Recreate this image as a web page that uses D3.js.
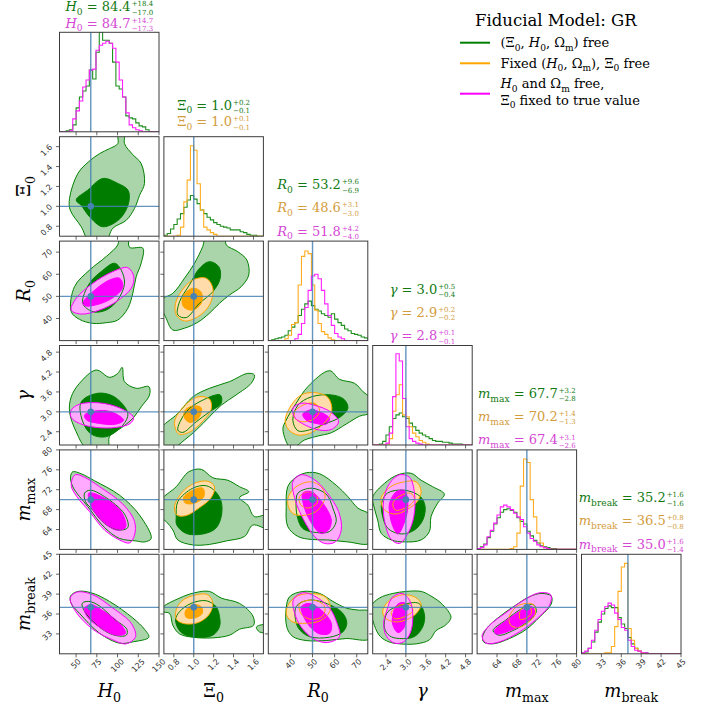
<!DOCTYPE html>
<html><head><meta charset="utf-8">
<script src="https://cdn.jsdelivr.net/npm/d3@7"></script>
<style>body{margin:0;background:#fff}svg{display:block}</style>
</head><body>
<svg id="c" width="721" height="707"></svg>
<script>
// ---------------- DATA ----------------
const paramKeys = ["H0","Xi0","R0","gamma","mmax","mbreak"];
const paramRanges = [[30,150],[0.70,1.70],[30,75],[2.0,5.0],[60,80],[30,45]];
const truthValues = [67.7,1.0,50,3.0,70,37];
const tickValues = [[50,75,100,125,150],[0.8,1.0,1.2,1.4,1.6],[40,50,60,70],[2.4,3.0,3.6,4.2,4.8],[64,68,72,76,80],[33,36,39,42,45]];
const tickLabels = [["50","75","100","125","150"],["0.8","1.0","1.2","1.4","1.6"],["40","50","60","70"],["2.4","3.0","3.6","4.2","4.8"],["64","68","72","76","80"],["33","36","39","42","45"]];
const paramSymbols = [[["H","i"],["0","s"]],[["Ξ",""],["0","s"]],[["R","i"],["0","s"]],[["γ","i"]],[["m","i"],["max","s"]],[["m","i"],["break","s"]]];
const seriesNames = ["green","orange","magenta"];
const legendLabels = [
  [[["(",""],["Ξ",""],["0","s"],[", ",""],["H","i"],["0","s"],[", Ω",""],["m","s"],[") free",""]]],
  [[["Fixed (",""],["H","i"],["0","s"],[", Ω",""],["m","s"],["), ",""],["Ξ",""],["0","s"],[" free",""]]],
  [[["H","i"],["0","s"],[" and Ω",""],["m","s"],[" free,",""]],[["Ξ",""],["0","s"],[" fixed to true value",""]]]
];
const legendTitle = "Fiducial Model: GR";

// titles: [series, median, plus, minus]
const titleValues = [
  [["green","84.4","+18.4","−17.0"],["magenta","84.7","+14.7","−17.3"]],
  [["green","1.0","+0.2","−0.1"],["orange","1.0","+0.1","−0.1"]],
  [["green","53.2","+9.6","−6.9"],["orange","48.6","+3.1","−3.0"],["magenta","51.8","+4.2","−4.0"]],
  [["green","3.0","+0.5","−0.4"],["orange","2.9","+0.2","−0.2"],["magenta","2.8","+0.1","−0.1"]],
  [["green","67.7","+3.2","−2.8"],["orange","70.2","+1.4","−1.3"],["magenta","67.4","+3.1","−2.6"]],
  [["green","35.2","+1.6","−1.6"],["orange","36.5","+0.8","−0.8"],["magenta","35.0","+1.6","−1.4"]]
];

// 1D histograms (30 bins over each axis range), heights in % of the tallest bar
const hist_H0 = [
  ["green",  [0,0,1,2,7,24,35,41,46,62,53,80,100,92,92,89,70,46,43,35,16,14,13,9,6,5,2,0,0,0]],
  ["magenta",[0,0,0,1,13,21,31,45,52,62,63,82,87,89,91,89,84,70,52,35,19,7,4,2,1,0,0,0,0,0]]
];
const hist_Xi0 = [
  ["green", [1,3,8,13,19,25,32,40,45,41,36,29,25,21,18,15,13,11,10,9,7,7,7,5,4,2,1,1,0,0]],
  ["orange",[0,0,0,0,1,10,38,62,100,95,58,29,10,7,4,2,0,0,0,0,0,0,0,0,0,0,0,0,0,0]]
];
const hist_R0 = [
  ["green",  [0,1,2,3,4,6,11,15,20,28,35,41,44,39,35,33,30,28,26,30,24,20,17,13,11,8,7,6,4,3]],
  ["orange", [0,0,0,0,0,2,6,18,20,62,94,100,97,62,34,19,10,7,3,1,0,0,0,0,0,0,0,0,0,0]],
  ["magenta",[0,0,0,0,0,0,0,0,2,7,19,37,56,72,74,69,56,41,28,17,8,4,2,0,0,0,0,0,0,0]]
];
const hist_gamma = [
  ["green",  [0,0,1,4,11,20,29,33,35,31,29,24,20,16,13,11,9,7,5,4,4,3,3,2,1,1,1,0,0,0]],
  ["orange", [0,0,0,0,0,7,37,55,66,33,31,20,13,9,5,3,1,0,0,0,0,0,0,0,0,0,0,0,0,0]],
  ["magenta",[0,0,0,0,2,13,53,100,92,51,20,7,4,2,1,0,0,0,0,0,0,0,0,0,0,0,0,0,0,0]]
];
const hist_mmax = [
  ["green",  [1,3,6,13,20,28,35,41,44,45,43,41,35,31,28,20,15,10,7,4,3,2,1,1,0,0,0,0,0,0]],
  ["orange", [0,0,0,0,0,0,0,0,0,0,1,3,18,70,100,96,55,36,18,7,2,1,0,0,0,0,0,0,0,0]],
  ["magenta",[1,2,5,14,21,29,38,47,49,47,44,40,36,33,25,18,12,9,5,3,2,1,0,0,0,0,0,0,0,0]]
];
const hist_mbreak = [
  ["green",  [1,2,6,13,24,35,44,50,53,51,51,40,33,28,18,11,6,3,1,1,0,0,0,0,0,0,0,0,0,0]],
  ["orange", [0,0,0,0,0,0,0,1,1,8,30,69,96,100,28,15,6,3,1,0,0,0,0,0,0,0,0,0,0,0]],
  ["magenta",[1,3,6,15,26,38,47,52,56,54,45,38,29,26,15,8,4,3,1,1,0,0,0,0,0,0,0,0,0,0]]
];
const histTops = [100,110,111,109,110,110];

// 2D credible contours: [series, level (2 = 95%, 1 = 68%), [[x,y],...]]
const contour_H0_Xi0 = [
  ["green",2,[[66.2,0.645],[56.2,0.795],[42.9,0.963],[42.1,1.08],[52.1,1.33],[65.4,1.45],[78.3,1.53],[90.3,1.58],[100.3,1.63],[100.3,1.75],[108.4,1.75],[108.4,1.63],[118.4,1.52],[128.5,1.43],[132.5,1.23],[126.5,1.11],[120.5,0.98],[110.5,0.86],[94.3,0.78],[85.5,0.645]]],
  ["green",1,[[50.1,1.064],[64.2,1.164],[82.3,1.28],[100.4,1.23],[112.5,1.164],[113.7,1.047],[103.4,0.88],[82.3,0.795],[66.2,0.896],[56.2,1.01]]]
];
const contour_H0_R0 = [
  ["green",2,[[44.1,43.1],[48.1,54.4],[66.2,61.9],[86.3,68.0],[100.3,73.3],[102.4,77],[112.4,77],[114.4,72.2],[130.5,71.8],[128.5,65.0],[122.5,58.9],[118.4,51.4],[112.4,44.6],[100.3,39.3],[86.3,38.1],[70.2,37.8],[54.1,39.6]]],
  ["green",1,[[58.1,46.9],[66.2,55.9],[80.3,61.2],[96.4,65.0],[104.4,61.9],[108.4,55.9],[100.3,48.4],[86.3,43.8],[70.2,43.1]]],
  ["magenta",2,[[44.1,43.8],[50.1,49.1],[70.2,55.9],[94.3,61.2],[112.4,63.0],[119.6,58.9],[116.5,53.7],[98.4,47.6],[78.3,43.8],[56.2,42.0]]],
  ["magenta",1,[[58.1,46.9],[70.2,52.1],[90.3,57.4],[102.4,58.2],[106.4,54.4],[96.4,49.9],[78.3,46.6],[61.4,45.7]]]
];
const contour_H0_gamma = [
  ["green",2,[[62.9,1.9],[50.1,2.40],[42.1,3.0],[44.1,3.45],[54.1,3.86],[74.3,4.26],[90.3,4.04],[100.3,4.16],[105.6,4.34],[108.4,3.91],[122.5,3.71],[137.7,3.76],[138.6,3.51],[128.5,3.15],[118.4,2.80],[106.4,2.55],[90.3,2.25],[88.3,1.9]]],
  ["green",1,[[56.2,3.30],[76.2,3.56],[96.3,3.45],[112.4,2.95],[106.4,2.60],[86.3,2.25],[68.2,2.33],[57.4,2.75]]],
  ["magenta",2,[[44.1,3.05],[54.1,3.23],[78.3,3.27],[102.4,3.12],[119.3,2.83],[115.3,2.65],[98.4,2.53],[74.3,2.53],[54.1,2.65],[44.1,2.83]]],
  ["magenta",1,[[60.2,2.90],[74.3,3.03],[92.4,3.0],[107.2,2.75],[98.4,2.63],[78.3,2.65],[62.9,2.75]]]
];
const contour_H0_mmax = [
  ["green",2,[[46.0,75.6],[56.2,75.2],[72.2,73.8],[102.4,70.9],[126.5,66.9],[140.6,62.2],[132.5,61.5],[122.5,61.7],[102.4,62.2],[84.3,64.4],[64.1,68.6],[46.0,72.6],[43.3,74.6]]],
  ["green",1,[[60.2,71.3],[67.0,71.9],[84.3,70.6],[108.4,67.1],[112.4,64.4],[100.3,63.9],[84.3,65.2],[70.2,67.9],[61.4,69.6]]],
  ["magenta",2,[[44.1,72.9],[48.9,75.0],[60.2,74.5],[78.3,72.6],[106.4,69.1],[120.5,65.6],[120.5,62.9],[114.4,61.3],[102.4,61.9],[84.3,63.9],[66.2,67.6],[50.9,70.6]]],
  ["magenta",1,[[65.4,71.3],[84.3,70.3],[104.4,67.6],[109.6,64.4],[98.4,63.9],[82.3,65.6],[69.4,68.3]]]
];
const contour_H0_mbreak = [
  ["green",2,[[43.3,38.7],[52.1,39.4],[68.2,39.2],[90.3,37.9],[118.4,35.4],[132.5,33.7],[137.7,32.5],[118.4,31.8],[102.4,31.6],[78.3,33.1],[54.1,36.1],[44.1,37.6]]],
  ["green",1,[[57.4,37.6],[65.4,37.9],[78.3,37.2],[96.3,35.2],[111.2,33.7],[110.5,32.8],[96.3,32.8],[78.3,34.0],[60.2,36.4]]],
  ["magenta",2,[[42.9,38.4],[50.9,39.3],[70.2,38.9],[94.3,36.9],[116.5,34.6],[121.7,32.6],[110.5,31.5],[94.3,32.1],[70.2,33.7],[49.3,36.4]]],
  ["magenta",1,[[60.2,36.9],[68.2,37.4],[82.3,36.5],[102.4,34.6],[109.6,33.1],[98.4,32.8],[78.3,34.0],[62.9,35.7]]]
];
const contour_Xi0_R0 = [
  ["green",2,[[0.79,34.8],[0.723,40.1],[0.66,48.0],[0.79,51.4],[0.907,58.2],[1.008,65.0],[1.09,72.5],[1.125,77],[1.31,77],[1.326,73.3],[1.443,70.2],[1.533,66.5],[1.553,59.7],[1.477,54.4],[1.359,50.6],[1.259,46.9],[1.158,42.4],[1.041,38.3],[0.907,35.6]]],
  ["green",1,[[0.957,55.2],[1.058,62.7],[1.158,65.7],[1.252,63.4],[1.266,58.2],[1.192,52.1],[1.058,46.9],[0.924,40.4],[0.84,41.6],[0.857,47.6]]],
  ["orange",2,[[0.817,46.9],[0.884,52.9],[0.99,57.4],[1.125,58.2],[1.192,53.7],[1.158,46.1],[1.041,40.8],[0.907,38.9],[0.824,41.6]]],
  ["orange",1,[[0.89,49.9],[0.99,53.7],[1.075,51.9],[1.075,46.9],[0.99,43.8],[0.897,45.3]]]
];
const contour_Xi0_gamma = [
  ["green",2,[[0.66,1.9],[0.66,2.45],[0.84,2.95],[0.99,3.45],[1.158,3.71],[1.359,3.91],[1.543,4.16],[1.61,4.11],[1.577,3.86],[1.426,3.51],[1.276,3.20],[1.158,2.85],[1.025,2.45],[0.907,2.15],[0.79,1.9]]],
  ["green",1,[[0.84,2.45],[0.924,3.0],[1.075,3.33],[1.266,3.51],[1.276,3.26],[1.158,3.0],[1.025,2.70],[0.89,2.38]]],
  ["orange",2,[[0.807,2.70],[0.907,3.18],[1.041,3.45],[1.158,3.39],[1.175,3.08],[1.085,2.70],[0.964,2.40],[0.85,2.33]]],
  ["orange",1,[[0.907,3.02],[0.99,3.18],[1.075,3.12],[1.051,2.82],[0.964,2.68],[0.91,2.80]]]
];
const contour_Xi0_mmax = [
  ["green",2,[[0.66,66.6],[0.66,69.6],[0.824,72.6],[0.95,75.6],[1.075,76.1],[1.191,74.4],[1.342,73.9],[1.46,72.6],[1.553,71.6],[1.46,70.4],[1.543,68.9],[1.61,66.6],[1.75,66.9],[1.75,64.2],[1.594,64.9],[1.51,62.6],[1.326,61.7],[1.158,61.0],[0.99,60.9],[0.84,61.9],[0.79,63.9],[0.723,65.6]]],
  ["green",1,[[0.824,66.6],[0.84,69.6],[0.99,72.3],[1.125,72.8],[1.219,71.6],[1.276,69.6],[1.276,66.6],[1.219,64.2],[1.091,63.1],[0.924,63.2],[0.83,64.9]]],
  ["orange",2,[[0.807,68.6],[0.884,71.5],[1.008,73.3],[1.141,73.7],[1.209,72.6],[1.175,70.4],[1.058,68.4],[0.924,66.8],[0.83,66.9]]],
  ["orange",1,[[0.897,70.4],[0.99,71.9],[1.091,72.3],[1.101,70.6],[1.008,69.3],[0.917,69.3]]]
];
const contour_Xi0_mbreak = [
  ["green",2,[[0.68,36.35],[0.68,36.9],[0.857,38.4],[1.008,39.2],[1.158,39.4],[1.276,38.4],[1.46,37.6],[1.594,35.7],[1.601,34.3],[1.46,33.7],[1.359,32.8],[1.191,32.4],[0.99,32.5],[0.857,33.0],[0.79,34.3],[0.757,36.1]]],
  ["green",2,[[1.63,34.0],[1.66,34.3],[1.75,34.3],[1.75,33.3],[1.66,33.3]]],
  ["green",1,[[0.817,35.1],[0.857,36.35],[0.974,37.6],[1.125,38.0],[1.225,37.1],[1.259,35.6],[1.259,34.1],[1.191,32.8],[1.025,32.5],[0.874,33.2]]],
  ["orange",2,[[0.817,36.2],[0.874,37.9],[1.025,38.9],[1.141,38.9],[1.191,37.7],[1.158,36.0],[1.058,34.8],[0.924,34.5],[0.83,35.1]]],
  ["orange",1,[[0.917,36.5],[0.997,37.4],[1.075,37.1],[1.085,36.1],[1.008,35.4],[0.924,35.5]]]
];
const contour_R0_gamma = [
  ["green",2,[[36.6,2.47],[38.1,2.75],[42.6,3.26],[47.9,3.76],[57.7,4.24],[62.2,3.98],[69.0,3.86],[72.8,3.61],[76,3.41],[76,2.97],[71.3,2.87],[65.2,2.63],[58.5,2.37],[52.4,2.27],[46.4,2.15],[40.4,1.9]]],
  ["green",1,[[41.1,2.75],[43.4,3.20],[49.4,3.45],[58.5,3.51],[64.2,3.38],[66.0,3.11],[62.2,2.83],[55.4,2.63],[49.4,2.47],[43.4,2.43]]],
  ["orange",2,[[37.6,2.75],[40.4,3.20],[44.9,3.51],[50.9,3.58],[56.9,3.44],[58.7,3.03],[55.1,2.65],[49.4,2.37],[43.4,2.30],[39.1,2.47]]],
  ["orange",1,[[41.9,3.00],[45.6,3.20],[50.9,3.26],[53.2,3.05],[50.9,2.80],[45.6,2.70],[42.2,2.80]]],
  ["magenta",2,[[41.1,3.11],[44.9,3.26],[50.9,3.20],[58.1,3.00],[61.8,2.70],[58.5,2.47],[53.2,2.45],[46.7,2.60],[41.9,2.83]]],
  ["magenta",1,[[45.6,2.93],[48.6,3.05],[53.2,3.00],[57.7,2.80],[56.2,2.63],[51.7,2.65],[47.1,2.75]]]
];
const contour_R0_mmax = [
  ["green",2,[[38.8,72.6],[41.9,74.3],[47.1,75.4],[53.2,75.2],[60.7,72.9],[66.0,70.6],[70.5,68.3],[76,66.9],[76,61.3],[66.0,61.5],[56.9,61.9],[49.4,62.0],[43.4,62.6],[38.8,64.6],[38.1,68.6]]],
  ["green",1,[[42.6,69.6],[43.4,71.3],[49.4,72.3],[56.2,71.1],[59.2,68.3],[60.7,65.6],[57.7,63.6],[51.7,63.4],[45.6,64.2],[43.1,66.6]]],
  ["orange",2,[[39.1,70.6],[42.6,72.6],[49.1,73.6],[53.9,72.6],[55.7,70.6],[52.4,67.9],[47.1,66.9],[41.5,67.1],[39.1,68.6]]],
  ["orange",1,[[44.1,70.6],[47.9,71.6],[51.7,70.9],[52.1,69.3],[47.9,68.3],[44.6,69.0]]],
  ["magenta",2,[[41.1,73.6],[44.6,75.0],[50.6,74.1],[56.2,71.6],[61.8,67.6],[63.0,63.9],[60.3,61.5],[55.4,61.2],[50.9,62.6],[46.4,65.6],[42.2,69.9]]],
  ["magenta",1,[[45.6,71.3],[49.4,71.6],[54.7,69.3],[58.5,65.9],[57.2,63.9],[53.9,63.2],[50.1,64.9],[46.4,68.3]]]
];
const contour_R0_mbreak = [
  ["green",2,[[38.1,36.9],[39.6,38.6],[45.6,39.4],[53.2,39.1],[59.2,37.9],[65.2,36.9],[70.5,36.6],[76,36.35],[76,32.3],[65.2,32.3],[56.2,32.0],[47.1,32.0],[41.1,32.6],[38.4,34.0]]],
  ["green",1,[[42.6,37.1],[48.6,38.1],[57.7,37.4],[63.7,36.1],[65.5,34.6],[63.7,33.3],[57.7,32.5],[48.6,32.6],[43.4,34.0]]],
  ["orange",2,[[38.4,36.9],[41.9,38.5],[49.4,39.1],[56.2,38.5],[58.0,36.6],[53.5,35.0],[47.1,34.6],[41.1,34.8],[38.4,35.7]]],
  ["orange",1,[[44.1,37.5],[50.1,38.1],[55.4,37.2],[54.7,35.7],[49.4,35.2],[44.9,36.0]]],
  ["magenta",2,[[41.4,38.2],[45.6,39.2],[50.9,38.7],[57.7,36.9],[61.0,34.7],[62.2,32.6],[56.9,31.7],[51.4,32.1],[45.9,33.6],[42.3,35.7]]],
  ["magenta",1,[[44.9,37.1],[48.6,37.6],[53.9,36.6],[58.5,34.6],[57.7,33.1],[53.2,33.0],[48.6,34.2],[45.6,35.9]]]
];
const contour_gamma_mmax = [
  ["green",2,[[2.0,70.5],[2.36,73.3],[2.76,75.0],[3.16,75.3],[3.46,73.9],[3.81,72.6],[4.16,71.1],[3.96,69.3],[3.76,66.6],[3.71,63.6],[3.46,61.9],[2.96,61.5],[2.56,61.9],[2.26,63.2],[2.15,65.9],[2.05,68.3]]],
  ["green",1,[[2.27,69.3],[2.44,71.3],[2.96,71.9],[3.44,70.6],[3.58,68.6],[3.51,65.9],[3.26,63.9],[2.86,63.1],[2.46,64.2],[2.30,66.6]]],
  ["orange",2,[[2.26,70.5],[2.54,72.6],[2.96,73.6],[3.31,73.6],[3.46,71.8],[3.36,69.8],[3.06,68.1],[2.68,67.1],[2.36,67.9],[2.26,69.3]]],
  ["orange",1,[[2.61,69.3],[2.81,70.7],[3.14,71.3],[3.26,70.1],[3.06,68.6],[2.68,67.9]]],
  ["magenta",2,[[2.33,69.9],[2.51,73.3],[2.81,75.0],[3.11,74.5],[3.26,71.3],[3.24,66.6],[3.06,63.2],[2.81,61.2],[2.56,62.0],[2.36,65.6]]],
  ["magenta",1,[[2.51,69.3],[2.71,71.6],[2.96,71.8],[3.06,69.1],[2.98,65.9],[2.76,63.1],[2.61,64.6],[2.51,67.3]]]
];
const contour_gamma_mbreak = [
  ["green",2,[[1.95,37.1],[2.20,38.4],[2.61,39.1],[3.01,39.4],[3.46,39.4],[3.76,38.7],[4.11,37.4],[4.36,35.5],[4.19,34.3],[3.91,33.5],[3.71,32.1],[3.31,31.5],[2.81,31.5],[2.49,31.8],[2.23,32.6],[2.05,34.3]]],
  ["green",1,[[2.36,35.0],[2.46,36.35],[2.91,37.4],[3.39,37.6],[3.56,35.9],[3.51,34.1],[3.26,32.6],[2.81,32.3],[2.51,32.7],[2.36,33.8]]],
  ["orange",2,[[2.30,36.5],[2.51,38.1],[2.91,38.9],[3.29,38.5],[3.46,37.5],[3.36,36.35],[3.11,35.35],[2.71,34.8],[2.39,35.35]]],
  ["orange",1,[[2.56,36.2],[2.81,37.3],[3.11,37.4],[3.21,36.5],[3.01,35.7],[2.66,35.3]]],
  ["magenta",2,[[2.43,36.6],[2.59,38.5],[2.89,39.1],[3.13,37.9],[3.21,35.6],[3.13,33.1],[2.93,31.8],[2.66,31.6],[2.41,32.7],[2.33,34.6]]],
  ["magenta",1,[[2.61,36.0],[2.76,37.5],[2.96,37.7],[3.03,36.1],[2.93,33.8],[2.76,33.2],[2.61,34.3]]]
];
const contour_mmax_mbreak = [
  ["green",2,[[61.1,32.5],[61.9,33.8],[64.5,35.6],[67.9,37.4],[70.5,38.6],[72.9,39.1],[74.9,38.7],[74.9,37.5],[72.5,35.5],[69.9,33.7],[66.5,32.3],[63.2,31.5],[61.3,31.8]]],
  ["green",1,[[63.2,33.5],[65.8,35.1],[69.2,36.9],[71.3,37.4],[71.9,36.35],[69.9,34.7],[67.2,33.5],[64.4,32.8]]],
  ["orange",2,[[66.5,35.7],[67.9,37.1],[69.9,37.6],[71.3,37.4],[71.7,36.0],[70.4,34.8],[68.5,34.0],[66.9,34.2],[66.4,35.1]]],
  ["orange",1,[[68.5,36.0],[69.2,37.1],[70.5,37.2],[70.9,36.1],[69.9,35.4],[68.7,35.2]]],
  ["magenta",2,[[61.0,32.7],[62.5,34.3],[65.8,36.2],[69.2,38.0],[72.5,39.2],[74.8,38.9],[74.6,37.4],[71.9,35.2],[68.5,33.3],[64.5,31.8],[61.8,31.6]]],
  ["magenta",1,[[63.5,33.5],[65.8,35.0],[69.1,36.6],[71.1,37.1],[71.5,36.0],[69.2,34.5],[66.7,33.5],[63.8,33.0]]]
];

// ---------------- STYLE / LAYOUT ----------------
const style = {
  green:  {line:"#008000", light:"#aad5aa", dark:"#007d00", hist:"#1f8f1f", title:"#137a13"},
  orange: {line:"#ffa500", light:"#ffdcaa", dark:"#ffa500", hist:"#ffad1f", title:"#d39c3c"},
  magenta:{line:"#ff00ff", light:"#ffaaff", dark:"#ff00ff", hist:"#ff1fff", title:"#d447d4"}
};
const TRUTH = "#4682b4";
const PX0 = 59.5, PY0 = 32.3, PS = 99.5, STEP = 104.4, N = 6;
const SERIF = "DejaVu Serif", SANS = "DejaVu Sans";

const svg = d3.select("#c");
const xS = paramRanges.map((r,i) => d3.scaleLinear().domain(r).range([PX0+i*STEP, PX0+i*STEP+PS]));
const yS = paramRanges.map((r,i) => d3.scaleLinear().domain(r).range([PY0+i*STEP+PS, PY0+i*STEP]));
const px = j => PX0 + j*STEP, py = i => PY0 + i*STEP;

const defs = svg.append("defs");
for (let i=0;i<N;i++) for (let j=0;j<=i;j++)
  defs.append("clipPath").attr("id",`cl-${i}-${j}`).append("rect")
    .attr("x",px(j)).attr("y",py(i)).attr("width",PS).attr("height",PS);

function rich(textSel, segs, fs) {
  let shift = 0;
  segs.forEach(([t,k]) => {
    const ts = textSel.append("tspan").text(t);
    let target = 0;
    if (k === "s") { target = fs*0.28; ts.attr("font-size", fs*0.7); }
    if (k === "i") ts.attr("font-style","italic");
    ts.attr("dy", target - shift);
    shift = target;
  });
}

// ---------- diagonal histograms ----------
const histAll = [hist_H0, hist_Xi0, hist_R0, hist_gamma, hist_mmax, hist_mbreak];
histAll.forEach((hs,i) => {
  const [lo,hi] = paramRanges[i];
  const nb = hs[0][1].length;
  const edges = d3.range(nb+1).map(k => lo + k*(hi-lo)/nb);
  const y = d3.scaleLinear().domain([0, histTops[i]]).range([py(i)+PS, py(i)]);
  const g = svg.append("g").attr("clip-path",`url(#cl-${i}-${i})`);
  const line = d3.line().x(d => xS[i](d[0])).y(d => y(d[1]));
  hs.forEach(([s, vals]) => {
    const pts = [[edges[0],0]];
    vals.forEach((v,k) => { pts.push([edges[k],v]); pts.push([edges[k+1],v]); });
    pts.push([edges[nb],0]);
    g.append("path").attr("d",line(pts)).attr("fill","none")
      .attr("stroke",style[s].hist).attr("stroke-width",1.1);
  });
  g.append("line").attr("x1",xS[i](truthValues[i])).attr("x2",xS[i](truthValues[i]))
    .attr("y1",py(i)).attr("y2",py(i)+PS).attr("stroke",TRUTH).attr("stroke-width",1.4).attr("opacity",0.85);
});

// ---------- 2D panels ----------
const panels = [
  [1,0,contour_H0_Xi0],
  [2,0,contour_H0_R0],[2,1,contour_Xi0_R0],
  [3,0,contour_H0_gamma],[3,1,contour_Xi0_gamma],[3,2,contour_R0_gamma],
  [4,0,contour_H0_mmax],[4,1,contour_Xi0_mmax],[4,2,contour_R0_mmax],[4,3,contour_gamma_mmax],
  [5,0,contour_H0_mbreak],[5,1,contour_Xi0_mbreak],[5,2,contour_R0_mbreak],[5,3,contour_gamma_mbreak],[5,4,contour_mmax_mbreak]
];
panels.forEach(([i,j,data]) => {
  const g = svg.append("g").attr("clip-path",`url(#cl-${i}-${j})`);
  const line = d3.line().x(d => xS[j](d[0])).y(d => yS[i](d[1])).curve(d3.curveCatmullRomClosed.alpha(0.5));
  data.forEach(([s,lev,pts]) => g.append("path").attr("d",line(pts))
    .attr("fill", lev===2 ? style[s].light : style[s].dark).attr("stroke","none"));
  data.forEach(([s,lev,pts]) => g.append("path").attr("d",line(pts))
    .attr("fill","none").attr("stroke",style[s].line).attr("stroke-width",1));
  const tx = xS[j](truthValues[j]), ty = yS[i](truthValues[i]);
  g.append("line").attr("x1",tx).attr("x2",tx).attr("y1",py(i)).attr("y2",py(i)+PS)
    .attr("stroke",TRUTH).attr("stroke-width",1.4).attr("opacity",0.85);
  g.append("line").attr("x1",px(j)).attr("x2",px(j)+PS).attr("y1",ty).attr("y2",ty)
    .attr("stroke",TRUTH).attr("stroke-width",1.4).attr("opacity",0.85);
  g.append("circle").attr("cx",tx).attr("cy",ty).attr("r",3.3).attr("fill",TRUTH);
});

// ---------- frames, ticks, tick labels ----------
const FR = "#3c3c3c";
for (let i=0;i<N;i++) for (let j=0;j<=i;j++) {
  svg.append("rect").attr("x",px(j)).attr("y",py(i)).attr("width",PS).attr("height",PS)
    .attr("fill","none").attr("stroke",FR).attr("stroke-width",1);
  const bottom = py(i)+PS;
  tickValues[j].forEach((t,k) => {
    const x = xS[j](t);
    svg.append("line").attr("x1",x).attr("x2",x).attr("y1",bottom).attr("y2",bottom+3.5).attr("stroke",FR).attr("stroke-width",0.8);
    if (i === N-1) {
      const tt = svg.append("text").attr("font-family",SANS).attr("font-size",8).attr("fill","#333")
        .attr("text-anchor","middle").attr("dominant-baseline","central").text(tickLabels[j][k]);
      const w = tt.node().getComputedTextLength();
      const s = (w + 7)*0.707;
      tt.attr("transform",`translate(${x},${bottom+4+s/2}) rotate(-45)`);
    }
  });
  if (i !== j) {
    tickValues[i].forEach((t,k) => {
      const y = yS[i](t);
      svg.append("line").attr("x1",px(j)-3.5).attr("x2",px(j)).attr("y1",y).attr("y2",y).attr("stroke",FR).attr("stroke-width",0.8);
      if (j === 0) {
        const tt = svg.append("text").attr("font-family",SANS).attr("font-size",8).attr("fill","#333")
          .attr("text-anchor","middle").attr("dominant-baseline","central").text(tickLabels[i][k]);
        const w = tt.node().getComputedTextLength();
        const s = (w + 7)*0.707;
        tt.attr("transform",`translate(${px(0)-6-s/2},${y+(w-8)*0.8}) rotate(-45)`);
      }
    });
  }
}

// ---------- axis labels ----------
paramSymbols.forEach((segs,k) => {
  const t = svg.append("text").attr("font-family",SERIF).attr("font-size",18).attr("fill","#000")
    .attr("text-anchor","middle").attr("x",px(k)+PS/2).attr("y",697);
  rich(t, segs, 18);
  if (k > 0) {
    const t2 = svg.append("text").attr("font-family",SERIF).attr("font-size",18).attr("fill","#000")
      .attr("text-anchor","middle").attr("transform",`translate(30,${py(k)+PS/2}) rotate(-90)`);
    rich(t2, segs, 18);
  }
});

// ---------- titles ----------
const titleOffsets = [[-21,-4.6],[-27,-10.5],[-52,-29,-5.5],[-52,-29,-5.5],[-52,-29,-5.5],[-52,-29,-5.5]];
const SCR = 7;
titleValues.forEach((rows,k) => {
  rows.forEach(([s,med,plus,minus],r) => {
    const yb = py(k) + titleOffsets[k][r];
    const col = style[s].title;
    const t = svg.append("text").attr("font-family",SERIF).attr("font-size",13).attr("fill",col).attr("x",0).attr("y",yb);
    rich(t, paramSymbols[k].concat([[" = "+med,""]]), 13);
    const w = t.node().getComputedTextLength();
    const sup = svg.append("text").attr("font-family",SERIF).attr("font-size",SCR).attr("fill",col).attr("y",yb-4.9).text(plus);
    const sub = svg.append("text").attr("font-family",SERIF).attr("font-size",SCR).attr("fill",col).attr("y",yb+3.5).text(minus);
    const ws = Math.max(sup.node().getComputedTextLength(), sub.node().getComputedTextLength());
    const x0 = px(k) + PS/2 - (w + 1 + ws)/2;
    t.attr("x", x0);
    t.selectAll("tspan").filter((d,n)=>n===0).attr("x", x0);
    sup.attr("x", x0 + w + 1);
    sub.attr("x", x0 + w + 1);
  });
});

// ---------- legend ----------
svg.append("text").attr("font-family",SERIF).attr("font-size",16.5).attr("fill","#000")
  .attr("x",475).attr("y",26).text(legendTitle);
const legLineY = [42.7, 63.3, 93.7];
const legRowY = [[47],[67.5],[88,104.5]];
seriesNames.forEach((s,k) => {
  svg.append("line").attr("x1",460).attr("x2",490).attr("y1",legLineY[k]).attr("y2",legLineY[k])
    .attr("stroke",style[s].line).attr("stroke-width",2);
  legendLabels[k].forEach((segs,r) => {
    const t = svg.append("text").attr("font-family",SERIF).attr("font-size",13).attr("fill","#000")
      .attr("x",500.5).attr("y",legRowY[k][r]);
    rich(t, segs, 13);
  });
});
</script>
</body></html>
